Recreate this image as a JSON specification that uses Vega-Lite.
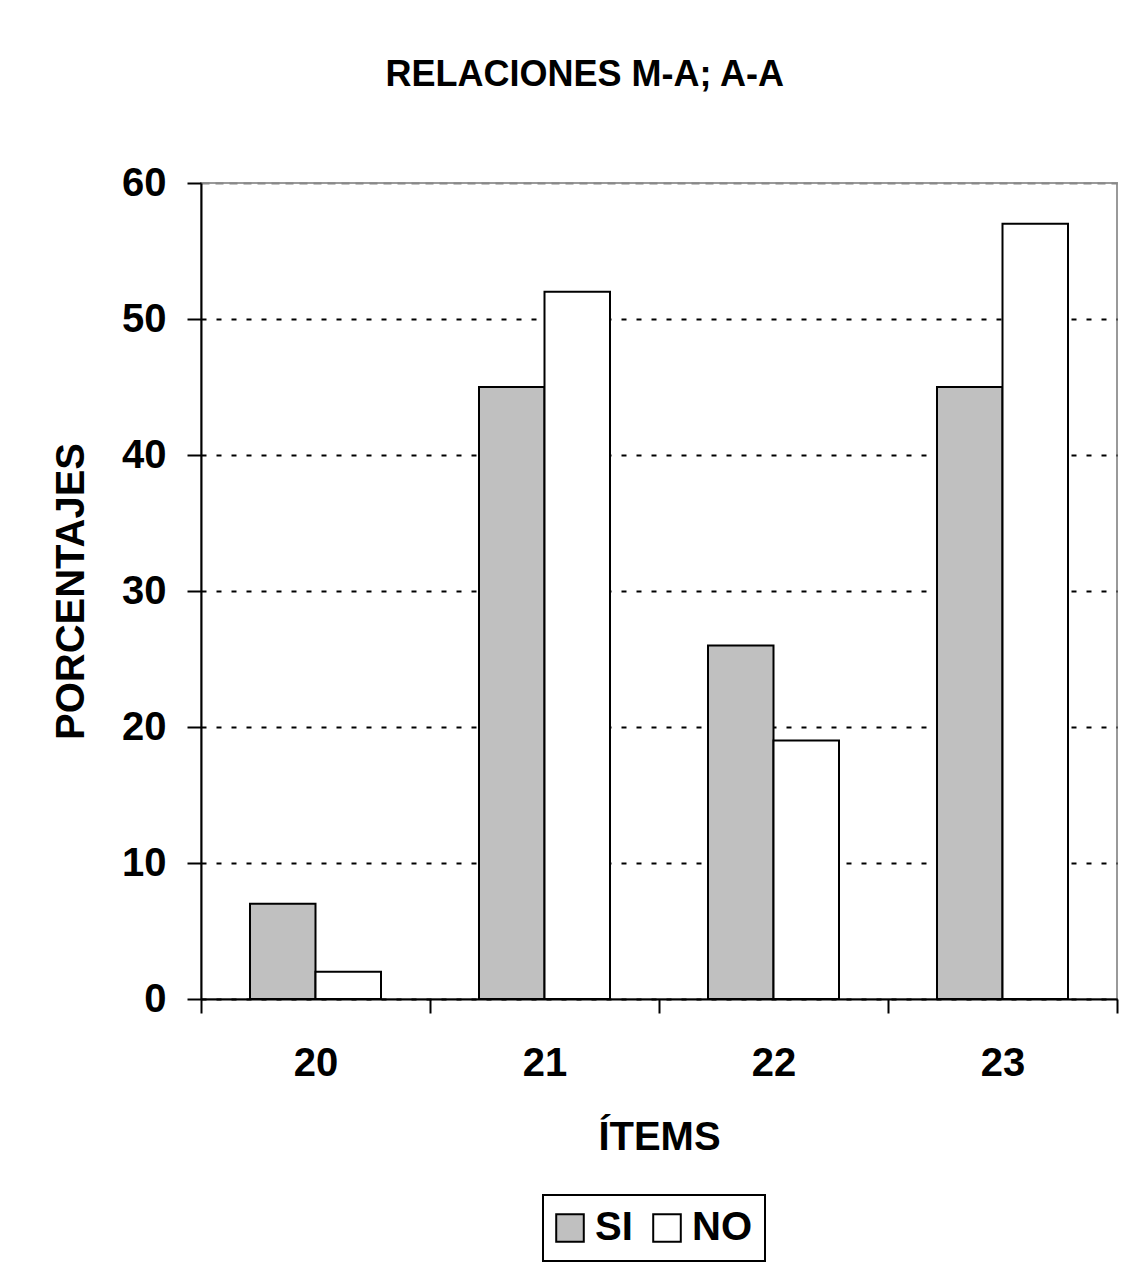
{
  "$schema": "https://vega.github.io/schema/vega-lite/v6.json",
  "width": 916,
  "height": 816,
  "autosize": {"type": "none"},
  "padding": {"left": 201, "top": 183, "right": 25, "bottom": 278},
  "background": "white",
  "title": {
    "text": "RELACIONES M-A; A-A",
    "font": "Liberation Sans",
    "fontSize": 36,
    "fontWeight": "bold",
    "color": "black",
    "anchor": "middle",
    "frame": "bounds",
    "offset": 69
  },
  "data": {
    "values": [
      {"item": "20", "serie": "SI", "pct": 7},
      {"item": "20", "serie": "NO", "pct": 2},
      {"item": "21", "serie": "SI", "pct": 45},
      {"item": "21", "serie": "NO", "pct": 52},
      {"item": "22", "serie": "SI", "pct": 26},
      {"item": "22", "serie": "NO", "pct": 19},
      {"item": "23", "serie": "SI", "pct": 45},
      {"item": "23", "serie": "NO", "pct": 57}
    ]
  },
  "mark": {"type": "bar", "stroke": "black", "strokeWidth": 2},
  "encoding": {
    "x": {
      "field": "item",
      "type": "nominal",
      "scale": {"paddingInner": 0, "paddingOuter": 0},
      "axis": {
        "title": "ÍTEMS",
        "labelAngle": 0,
        "tickBand": "extent",
        "tickSize": 14,
        "tickWidth": 2,
        "tickColor": "black",
        "domainColor": "black",
        "domainWidth": 2,
        "labelFont": "Liberation Sans",
        "labelFontSize": 40,
        "labelFontWeight": "bold",
        "labelColor": "black",
        "labelPadding": 30,
        "titleFont": "Liberation Sans",
        "titleFontSize": 40,
        "titleFontWeight": "bold",
        "titleColor": "black",
        "titlePadding": 34
      }
    },
    "xOffset": {
      "field": "serie",
      "sort": ["SI", "NO"],
      "scale": {"paddingInner": 0, "paddingOuter": 0.748}
    },
    "y": {
      "field": "pct",
      "type": "quantitative",
      "scale": {"domain": [0, 60], "nice": false},
      "axis": {
        "title": "PORCENTAJES",
        "values": [0, 10, 20, 30, 40, 50, 60],
        "grid": true,
        "gridColor": {"condition": {"test": "datum.value == 60", "value": "#888888"}, "value": "black"},
        "gridDash": {"condition": {"test": "datum.value == 60", "value": [8, 6]}, "value": [5, 10]},
        "gridWidth": 2,
        "tickSize": 14,
        "tickWidth": 2,
        "tickColor": "black",
        "domainColor": "black",
        "domainWidth": 2,
        "labelFont": "Liberation Sans",
        "labelFontSize": 40,
        "labelFontWeight": "bold",
        "labelColor": "black",
        "labelPadding": 21,
        "titleFont": "Liberation Sans",
        "titleFontSize": 40,
        "titleFontWeight": "bold",
        "titleColor": "black",
        "titlePadding": 30
      }
    },
    "color": {
      "field": "serie",
      "type": "nominal",
      "sort": ["SI", "NO"],
      "scale": {"domain": ["SI", "NO"], "range": ["#c0c0c0", "#ffffff"]},
      "legend": {
        "title": null,
        "orient": "none",
        "legendX": 342,
        "legendY": 1012,
        "direction": "horizontal",
        "fillColor": "white",
        "strokeColor": "black",
        "padding": 13,
        "symbolType": "square",
        "symbolSize": 760,
        "symbolOffset": -6,
        "symbolStrokeColor": "black",
        "symbolStrokeWidth": 2,
        "symbolOpacity": 1,
        "labelFont": "Liberation Sans",
        "labelFontSize": 40,
        "labelFontWeight": "bold",
        "labelColor": "black",
        "labelOffset": 5,
        "columnPadding": 16
      }
    }
  },
  "config": {
    "view": {"stroke": "#999999", "strokeWidth": 2},
    "legend": {"strokeWidth": 2}
  }
}
